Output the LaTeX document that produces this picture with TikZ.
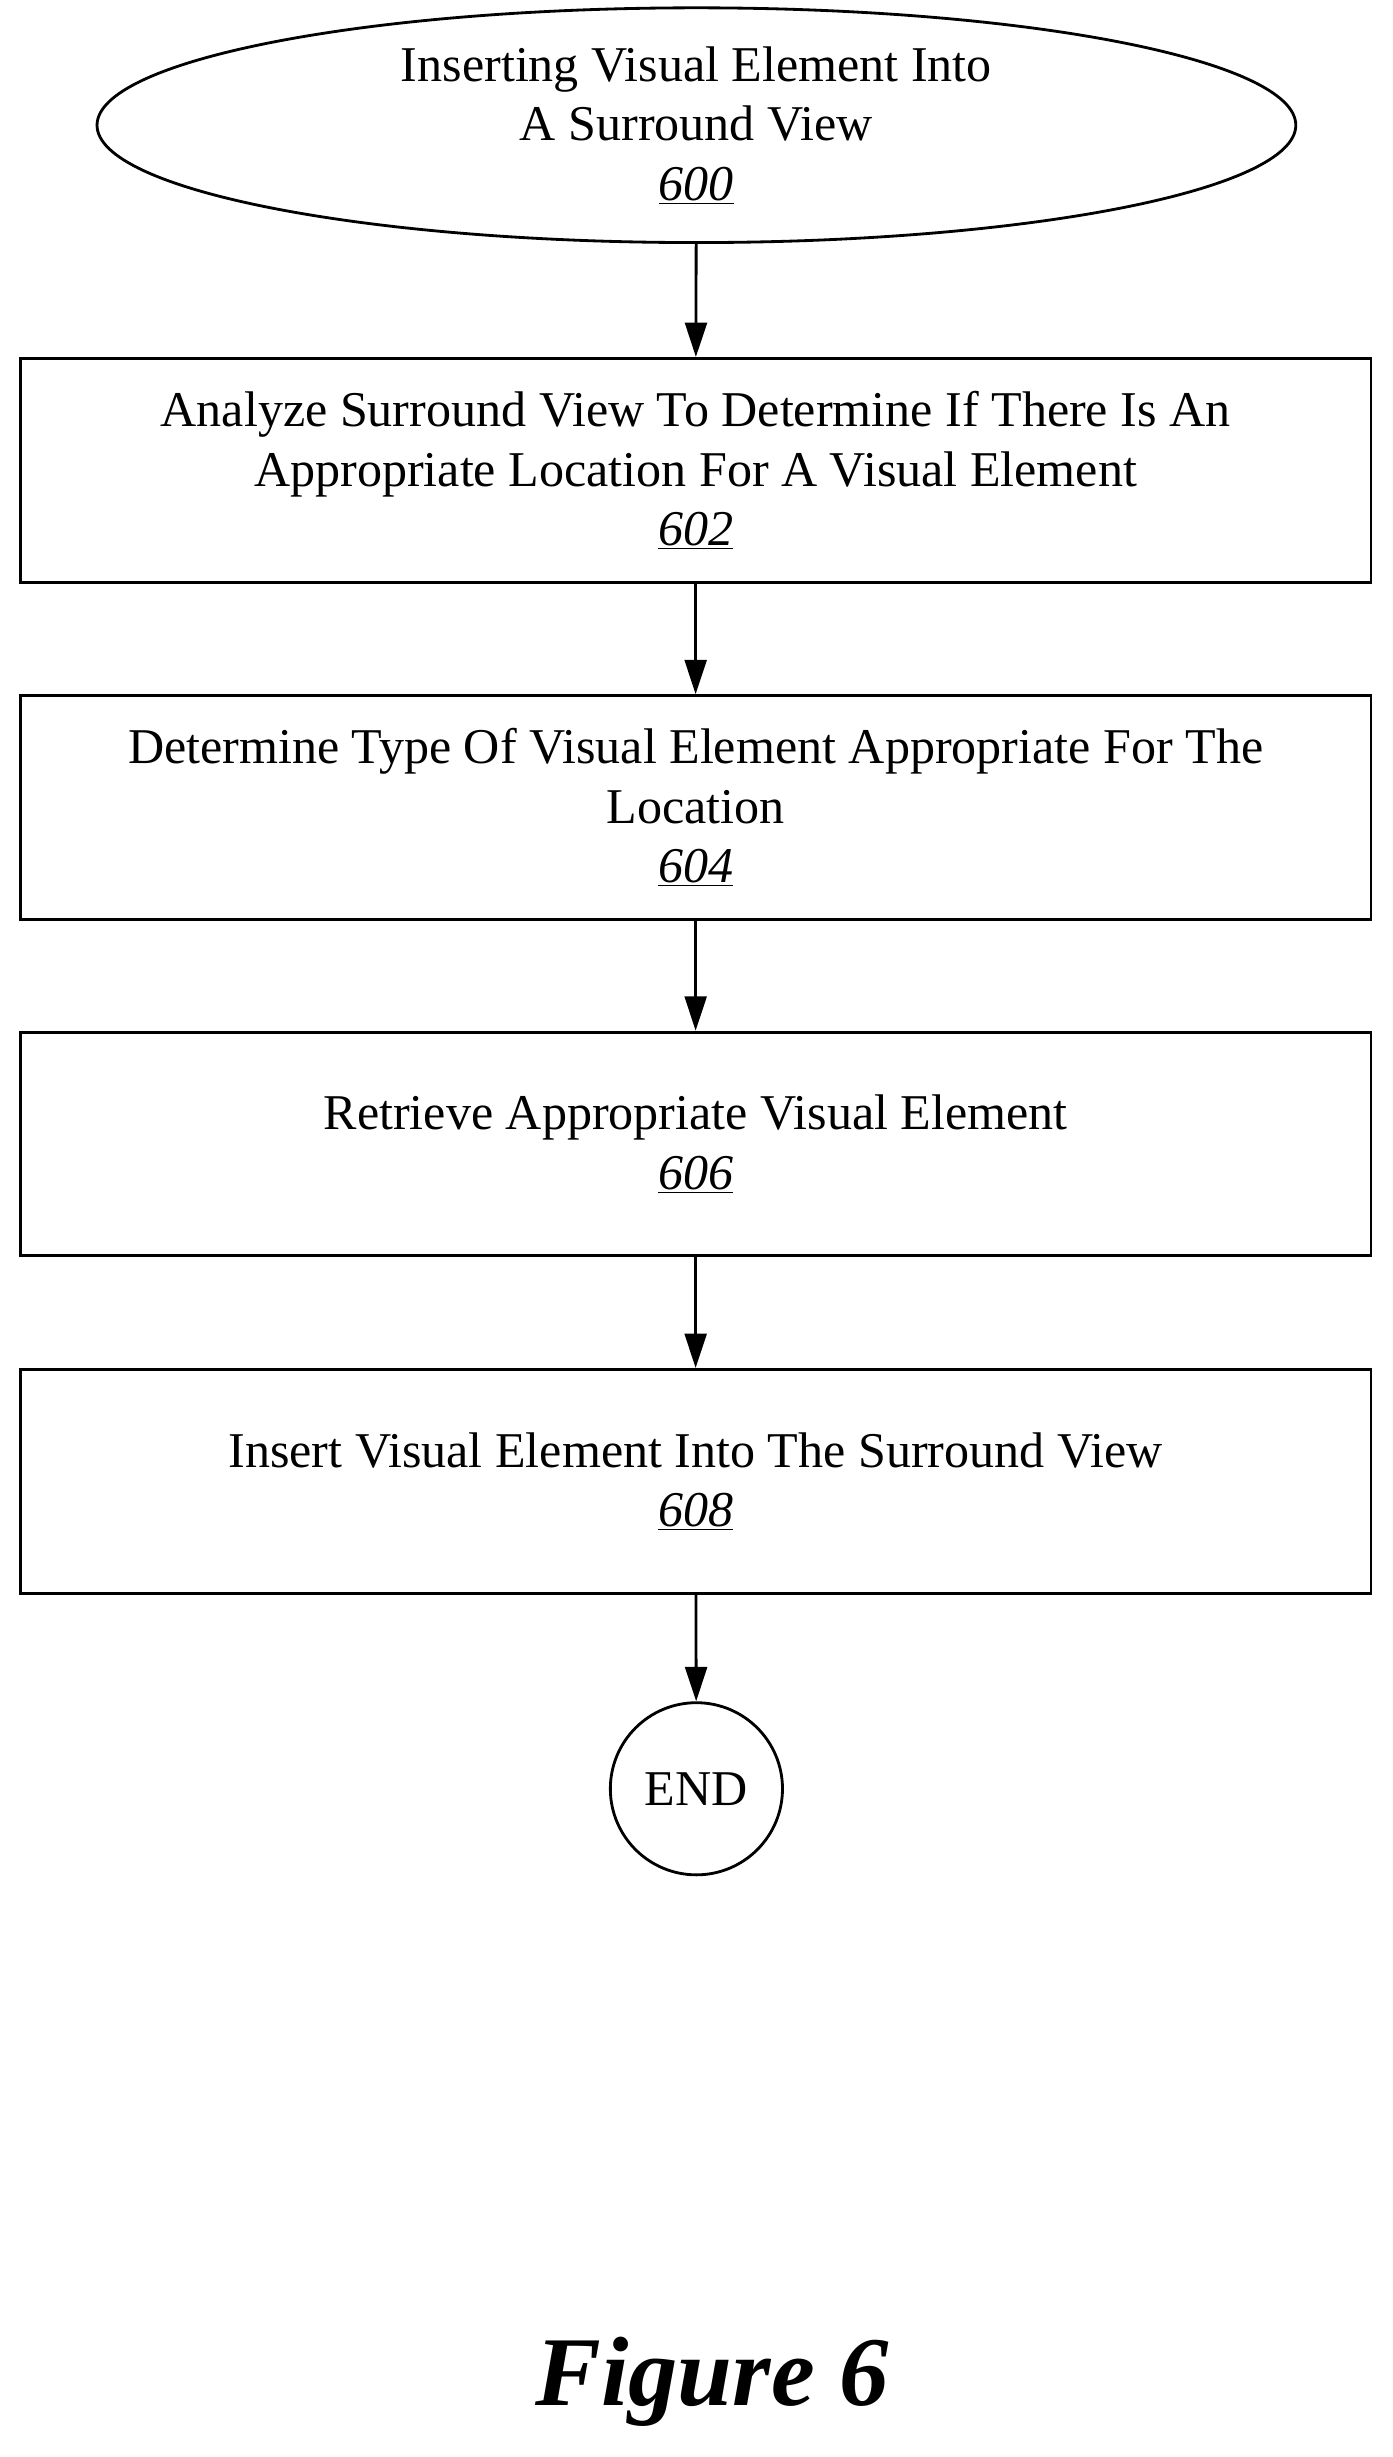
\documentclass[tikz,border=0pt]{standalone}
\usepackage{fontspec}
\setmainfont{Liberation Serif}
\usetikzlibrary{shapes.geometric,arrows.meta}
\begin{document}
\begin{tikzpicture}[x=1pt,y=-1pt,
  box/.style={draw,line width=1.8pt,minimum width=863pt,minimum height=143pt,align=center,inner sep=0pt,font=\fontsize{32}{38}\selectfont},
  arr/.style={line width=1.8pt,-{Triangle[length=22pt,width=14pt]}}]
\useasboundingbox (0,0) rectangle (890,1570);
\node[ellipse,draw,line width=1.8pt,minimum width=766pt,minimum height=150pt,inner sep=0pt,align=center,font=\fontsize{32}{38}\selectfont] (s) at (445,80) {Inserting Visual Element Into\\A Surround View\\\underline{\textit{600}}};
\node[box] (b1) at (444.5,300.5) {Analyze Surround View To Determine If There Is An\\Appropriate Location For A Visual Element\\\underline{\textit{602}}};
\node[box] (b2) at (444.5,516) {Determine Type Of Visual Element Appropriate For The\\Location\\\underline{\textit{604}}};
\node[box] (b3) at (444.5,731) {Retrieve Appropriate Visual Element\\\underline{\textit{606}}};
\node[box] (b4) at (444.5,946.5) {Insert Visual Element Into The Surround View\\\underline{\textit{608}}};
\node[circle,draw,line width=1.8pt,minimum size=110pt,inner sep=0pt,font=\fontsize{32}{38}\selectfont] (e) at (445,1143) {END};
\node[font=\fontsize{63}{75}\selectfont\bfseries\itshape] (f) at (455,1522) {Figure 6};
\draw[arr] (s) -- (b1);
\draw[arr] (b1) -- (b2);
\draw[arr] (b2) -- (b3);
\draw[arr] (b3) -- (b4);
\draw[arr] (b4) -- (e);
\end{tikzpicture}
\end{document}
